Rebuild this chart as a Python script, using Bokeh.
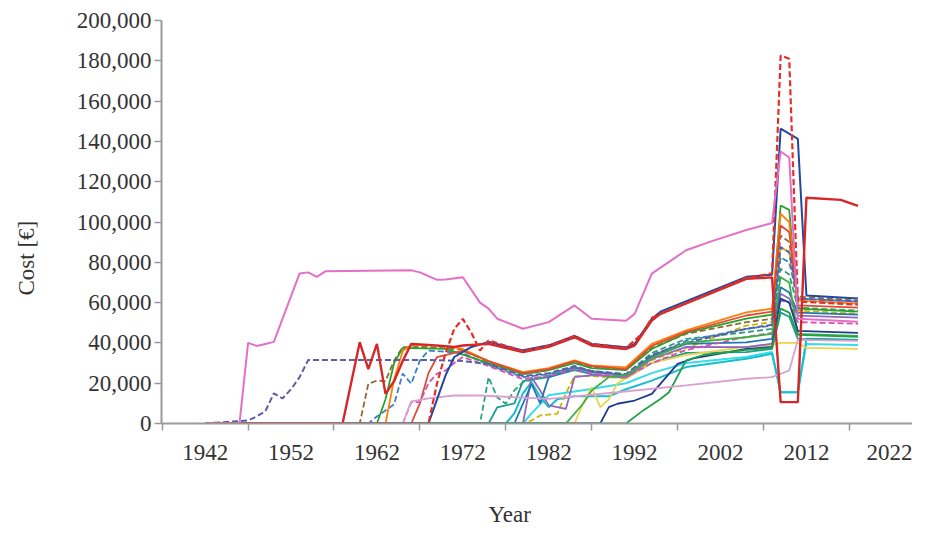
from bokeh.plotting import figure
from bokeh.models import FixedTicker, NumeralTickFormatter, Range1d, Title
from bokeh.embed import file_html
from bokeh.resources import INLINE

# ---------------- data ----------------
x_labels = [1942, 1952, 1962, 1972, 1982, 1992, 2002, 2012, 2022]
x_tick_marks = [1937, 1947, 1957, 1967, 1977, 1987, 1997, 2007, 2017]
y_ticks = [0, 20000, 40000, 60000, 80000, 100000, 120000, 140000, 160000, 180000, 200000]

pink_years = [1942, 1946, 1947, 1948, 1949, 1950, 1953, 1954, 1955, 1956, 1966, 1967, 1969, 1970, 1972, 1974, 1975, 1976, 1979, 1982, 1985, 1987, 1991, 1992, 1994, 1998, 2001, 2005, 2008, 2009, 2010, 2011, 2018]
pink_cost = [0, 0, 40000, 38500, 39500, 40500, 74500, 75000, 72800, 75500, 76000, 75000, 71300, 71500, 72600, 60000, 57000, 52000, 47000, 50300, 58600, 52000, 51000, 54400, 74400, 86000, 90500, 96000, 99500, 135000, 132000, 52000, 50500]

slate_years = [1942, 1947, 1948, 1949, 1950, 1951, 1952, 1953, 1954, 1968, 1972, 1975, 1979, 1982, 1985, 1987, 1991, 1994, 1998, 2005, 2008, 2009, 2010, 2011, 2018]
slate_cost = [0, 1500, 3500, 6000, 15000, 12400, 17000, 23000, 31500, 31500, 31000, 29500, 23500, 25000, 28500, 26000, 24500, 34000, 40000, 47000, 49000, 87500, 85000, 62000, 60500]

red_years = [1942, 1958, 1960, 1961, 1962, 1963, 1964, 1965, 1966, 1968, 1971, 1972, 1975, 1979, 1982, 1985, 1987, 1991, 1992, 1994, 1995, 2005, 2008, 2009, 2011, 2012, 2016, 2018]
red_cost = [0, 0, 40300, 27000, 39500, 14700, 21000, 31000, 39500, 39000, 38000, 38700, 39500, 35400, 38000, 42800, 38700, 37000, 38700, 51100, 54400, 71800, 72500, 10600, 10600, 112000, 111000, 108000]

blue_years = [1942, 1968, 1969, 1970, 1971, 1973, 1975, 1979, 1982, 1985, 1987, 1991, 1992, 1994, 1995, 2005, 2008, 2009, 2011, 2012, 2018]
blue_cost = [0, 0, 12000, 24000, 33000, 38000, 40500, 36300, 38800, 43500, 39500, 37800, 39500, 52000, 55500, 72800, 73800, 146300, 141300, 63500, 62000]

reddash_years = [1942, 1968, 1969, 1970, 1971, 1972, 1973, 1974, 1975, 1979, 1982, 1985, 1987, 1991, 1993, 1994, 2005, 2008, 2009, 2010, 2011, 2018]
reddash_cost = [0, 0, 20000, 35000, 47000, 51900, 45000, 36200, 41200, 36000, 38500, 43500, 39500, 37500, 45000, 52500, 72300, 74500, 182600, 181000, 60500, 59000]

brown_years = [1942, 1960, 1961, 1962, 1963, 1964, 1965, 1968, 1972, 1975, 1979, 1982, 1985, 1987, 1991, 1994, 1998, 2005, 2008, 2009, 2010, 2011, 2018]
brown_cost = [0, 0, 19700, 21300, 21000, 31300, 37900, 38000, 36500, 30500, 24500, 26500, 30500, 28000, 26500, 37500, 44500, 50300, 52000, 93300, 90000, 63000, 61000]

orange_years = [1942, 1963, 1964, 1965, 1966, 1970, 1972, 1975, 1979, 1982, 1985, 1987, 1991, 1994, 1998, 2005, 2008, 2009, 2010, 2011, 2018]
orange_cost = [0, 0, 22000, 36000, 39000, 38500, 37000, 31000, 25500, 27500, 31300, 28800, 27900, 39500, 46200, 55200, 57000, 104000, 100000, 61000, 59500]

green_years = [1942, 1962, 1963, 1964, 1965, 1970, 1975, 1979, 1982, 1985, 1987, 1991, 1994, 1998, 2005, 2008, 2009, 2010, 2011, 2018]
green_cost = [0, 0, 12000, 30000, 37500, 37000, 30000, 24500, 26500, 30000, 27500, 26500, 37000, 45000, 52000, 54000, 108200, 106000, 57000, 55500]

steel_years = [1942, 1961, 1962, 1963, 1964, 1965, 1966, 1967, 1968, 1972, 1975, 1979, 1982, 1985, 1987, 1991, 1994, 1998, 2005, 2008, 2009, 2010, 2011, 2018]
steel_cost = [0, 0, 3500, 6500, 9500, 24800, 19700, 31300, 36200, 35000, 29000, 23000, 24500, 28000, 26000, 24000, 33500, 41000, 47000, 48600, 82500, 80000, 62000, 60500]

magenta_years = [1942, 1965, 1966, 1967, 1968, 1969, 1970, 1971, 1972, 1975, 1979, 1982, 1985, 1987, 1991, 1994, 1998, 2005, 2008, 2009, 2010, 2011, 2018]
magenta_cost = [0, 0, 10600, 10600, 20000, 24800, 26300, 30000, 33000, 28500, 22000, 23500, 27000, 25000, 23000, 30000, 36500, 43000, 45000, 61000, 60000, 50300, 49500]

lilac_years = [1942, 1965, 1966, 1968, 1971, 1974, 1982, 1990, 1998, 2005, 2008, 2010, 2011, 2018]
lilac_cost = [0, 0, 11000, 12500, 13900, 13900, 12200, 15500, 18900, 22200, 23000, 26300, 41500, 41000]

greendash_years = [1942, 1974, 1975, 1976, 1977, 1978, 1979, 1982, 1985, 1987, 1991, 1994, 1998, 2005, 2008, 2009, 2010, 2011, 2018]
greendash_cost = [0, 0, 23000, 13000, 9800, 16400, 20500, 24000, 28000, 26000, 24500, 35000, 42000, 45300, 47000, 76800, 74000, 57500, 56000]

cyan_years = [1942, 1977, 1978, 1979, 1980, 1981, 1982, 1983, 1985, 1989, 1991, 1994, 1998, 2005, 2008, 2009, 2011, 2012, 2018]
cyan_cost = [0, 0, 5000, 15000, 20500, 13100, 8100, 12000, 13500, 13500, 17000, 21300, 28000, 32100, 34600, 15500, 15500, 42000, 41500]

lblue_years = [1942, 1978, 1980, 1981, 1982, 1985, 1987, 1991, 1994, 1998, 2005, 2008, 2009, 2010, 2011, 2018]
lblue_cost = [0, 0, 19700, 10000, 23000, 27500, 25500, 24000, 33000, 39500, 40300, 42000, 67600, 65000, 55000, 54000]

purple_years = [1942, 1979, 1980, 1981, 1982, 1984, 1985, 1987, 1991, 1994, 1998, 2005, 2008, 2009, 2010, 2011, 2018]
purple_cost = [0, 0, 23000, 16400, 9000, 7300, 23000, 24000, 23000, 32000, 38000, 37900, 39600, 64400, 62000, 53500, 52500]

olivedash_years = [1942, 1979, 1980, 1981, 1983, 1984, 1985, 1987, 1991, 1994, 1998, 2005, 2008, 2009, 2010, 2011, 2018]
olivedash_cost = [0, 0, 1500, 4000, 4800, 15000, 23500, 23500, 22500, 31500, 37500, 48600, 50300, 87500, 85000, 56000, 54500]

yellow_years = [1942, 1985, 1986, 1987, 1988, 1989, 1990, 1991, 1994, 1998, 2005, 2008, 2009, 2011, 2012, 2018]
yellow_cost = [0, 0, 10000, 18000, 8100, 12000, 20000, 22500, 30000, 34000, 38000, 39000, 40000, 40000, 37500, 37000]

green2_years = [1942, 1984, 1986, 1987, 1989, 1991, 1994, 1998, 2005, 2008, 2009, 2010, 2011, 2018]
green2_cost = [0, 0, 9800, 16400, 23000, 24000, 32500, 40000, 42800, 44500, 72600, 70000, 44500, 43500]

navy_years = [1942, 1988, 1989, 1990, 1992, 1994, 1995, 1997, 1999, 2005, 2008, 2009, 2010, 2011, 2018]
navy_cost = [0, 0, 8100, 9800, 11400, 14700, 19700, 29600, 32500, 37000, 38000, 62000, 60000, 46000, 45000]

green3_years = [1942, 1991, 1993, 1995, 1996, 1998, 2000, 2005, 2008, 2009, 2010, 2011, 2018]
green3_cost = [0, 0, 6500, 12200, 15500, 31300, 34000, 36500, 37500, 57000, 55000, 44000, 43000]

cyan2_years = [1942, 1979, 1980, 1982, 1986, 1991, 1994, 1998, 2005, 2008, 2009, 2011, 2012, 2018]
cyan2_cost = [0, 0, 5000, 14000, 16500, 20000, 25000, 30000, 33000, 35500, 15500, 15500, 39500, 39000]

teal_years = [1942, 1975, 1976, 1978, 1979, 1982, 1985, 1987, 1991, 1994, 1998, 2005, 2008, 2009, 2010, 2011, 2018]
teal_cost = [0, 0, 8000, 10000, 21000, 23000, 26500, 24500, 22500, 30000, 35000, 35400, 37000, 55000, 53000, 42000, 41500]

red2_years = [1942, 1966, 1967, 1968, 1969, 1972, 1975, 1979, 1982, 1985, 1987, 1991, 1994, 1998, 2005, 2008, 2009, 2010, 2011, 2018]
red2_cost = [0, 0, 10000, 25000, 33000, 36000, 31000, 25000, 27000, 31000, 28500, 27000, 38500, 45500, 53600, 55500, 98300, 95000, 58600, 57500]

# ---------------- styling of each series ----------------
series = [
    (cyan2_years, cyan2_cost, "#38dbe8", None, 2),
    (cyan_years, cyan_cost, "#17becf", None, 2),
    (teal_years, teal_cost, "#1a9e8f", None, 1.8),
    (yellow_years, yellow_cost, "#e8d44d", None, 1.8),
    (olivedash_years, olivedash_cost, "#c9b800", "6 3", 1.8),
    (purple_years, purple_cost, "#9467bd", None, 1.8),
    (lblue_years, lblue_cost, "#1f77b4", None, 1.8),
    (greendash_years, greendash_cost, "#2ca07c", "6 3", 1.8),
    (steel_years, steel_cost, "#3b7fc4", "6 3", 1.8),
    (brown_years, brown_cost, "#8c6d31", "6 3", 1.8),
    (green_years, green_cost, "#2ca02c", None, 1.8),
    (orange_years, orange_cost, "#ff7f0e", None, 1.8),
    (red2_years, red2_cost, "#e34a33", None, 1.8),
    (magenta_years, magenta_cost, "#d64fb8", "6 3", 1.8),
    (slate_years, slate_cost, "#5b5ea6", "6 3", 2),
    (green2_years, green2_cost, "#3cb043", None, 1.8),
    (navy_years, navy_cost, "#203c8c", None, 1.8),
    (green3_years, green3_cost, "#1fa049", None, 1.8),
    (lilac_years, lilac_cost, "#d9a0d0", None, 1.8),
    (blue_years, blue_cost, "#2346a0", None, 2),
    (red_years, red_cost, "#d62728", None, 2.4),
    (reddash_years, reddash_cost, "#e0302a", "6 3", 2.2),
    (pink_years, pink_cost, "#e36fc7", None, 2),
]

FONT = "Liberation Serif"
TXT = "#333333"

p = figure(width=912, height=528, output_backend="svg", toolbar_location=None,
           x_range=Range1d(1936.92, 2024.35), y_range=Range1d(0, 200000),
           min_border_left=161, min_border_right=0, min_border_top=20, min_border_bottom=105)
p.outline_line_color = None
p.xgrid.visible = False
p.ygrid.visible = False
p.background_fill_color = "white"
p.border_fill_color = "white"

for yrs, cst, col, dash, w in series:
    if dash:
        p.line(yrs, cst, line_color=col, line_width=w, line_dash=dash)
    else:
        p.line(yrs, cst, line_color=col, line_width=w)

AX = "#9a9a9a"
xa = p.xaxis[0]
xa.ticker = FixedTicker(ticks=x_labels, minor_ticks=x_tick_marks)
xa.axis_line_color = AX
xa.axis_line_width = 2
xa.major_tick_line_color = None
xa.major_tick_out = 6
xa.major_tick_in = 0
xa.minor_tick_line_color = AX
xa.minor_tick_line_width = 1.5
xa.minor_tick_out = 7
xa.minor_tick_in = 0
xa.major_label_text_font = FONT
xa.major_label_text_font_size = "23px"
xa.major_label_text_color = TXT
xa.major_label_standoff = 14

ya = p.yaxis[0]
ya.ticker = FixedTicker(ticks=y_ticks)
ya.formatter = NumeralTickFormatter(format="0,0")
ya.axis_line_color = AX
ya.axis_line_width = 2
ya.major_tick_line_color = AX
ya.major_tick_line_width = 1.5
ya.major_tick_out = 7
ya.major_tick_in = 0
ya.minor_tick_line_color = None
ya.major_label_text_font = FONT
ya.major_label_text_font_size = "23px"
ya.major_label_text_color = TXT
ya.major_label_standoff = 3

# spacers (blank) followed by the axis titles, so the titles sit where the reference has them
p.add_layout(Title(text=" ", standoff=22, text_font_size="10px"), "left")
p.add_layout(Title(text="Cost [€]", align="left", offset=128, standoff=0, vertical_align="bottom",
                   text_font=FONT, text_font_size="23px", text_font_style="normal",
                   text_color=TXT), "left")
p.add_layout(Title(text=" ", standoff=24, text_font_size="10px"), "below")
p.add_layout(Title(text="Year", align="left", offset=327, standoff=0, vertical_align="bottom",
                   text_font=FONT, text_font_size="23px", text_font_style="normal",
                   text_color=TXT), "below")

open("out.html", "w").write(file_html(p, INLINE))
